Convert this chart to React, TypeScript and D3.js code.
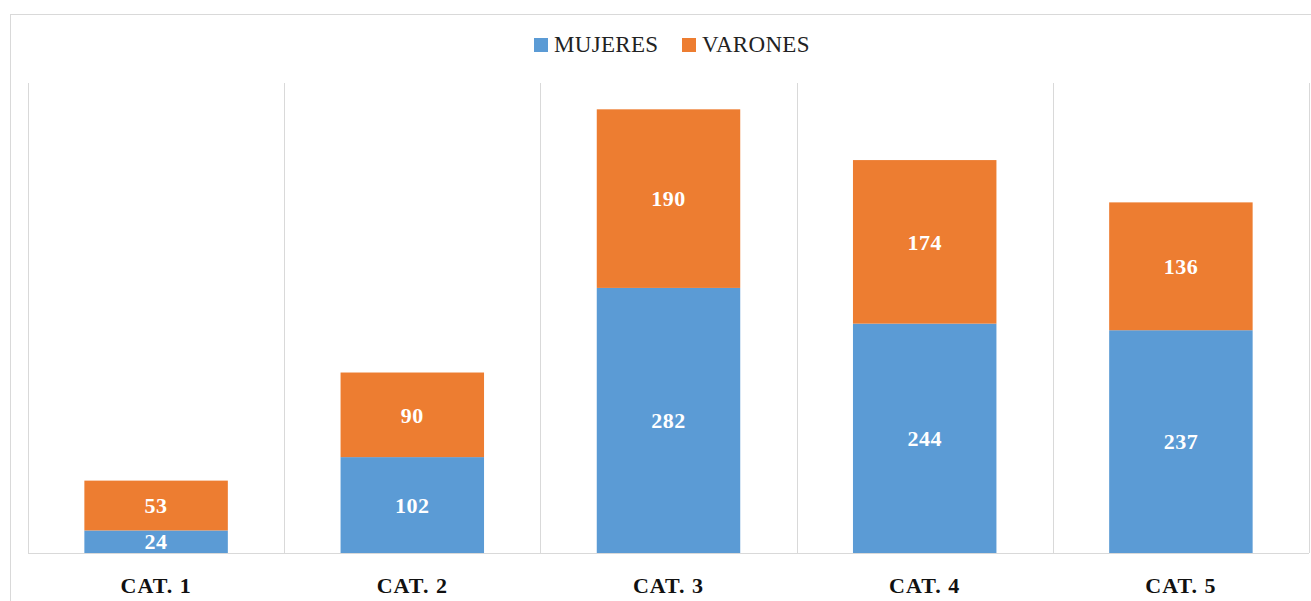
import React, { useEffect, useRef } from "react";
import * as d3 from "d3";

// 카테고리와 시리즈 값
const categories = ["CAT. 1", "CAT. 2", "CAT. 3", "CAT. 4", "CAT. 5"];
const mujeres = [24, 102, 282, 244, 237];
const varones = [53, 90, 190, 174, 136];
const seriesNames = ["MUJERES", "VARONES"];
const seriesColors = ["#5B9BD5", "#ED7D31"];

const WIDTH = 1311;
const HEIGHT = 601;

const App: React.FC = () => {
  const svgRef = useRef<SVGSVGElement>(null);

  useEffect(() => {
    if (!svgRef.current) return;
    const svg = d3.select(svgRef.current);
    svg.selectAll("*").remove();

    const plot = { left: 28, right: 1309, top: 83, bottom: 553 };

    // 바깥 테두리
    svg
      .append("rect")
      .attr("x", 10.5)
      .attr("y", 14.5)
      .attr("width", 1320)
      .attr("height", 620)
      .attr("fill", "white")
      .attr("stroke", "#d9d9d9")
      .attr("stroke-width", 1);

    const x = d3
      .scaleBand<string>()
      .domain(categories)
      .range([plot.left, plot.right])
      .paddingInner(0.44)
      .paddingOuter(0.22);

    const y = d3.scaleLinear().domain([0, 500]).range([plot.bottom, plot.top]);

    // 세로 그리드선 (카테고리 경계)
    const step = x.step();
    const bounds = d3.range(categories.length + 1).map((i) => plot.left + i * step);
    svg
      .append("g")
      .selectAll("line")
      .data(bounds)
      .enter()
      .append("line")
      .attr("x1", (d) => Math.round(d) + 0.5)
      .attr("x2", (d) => Math.round(d) + 0.5)
      .attr("y1", plot.top)
      .attr("y2", plot.bottom)
      .attr("stroke", "#d9d9d9");

    // 기준선
    svg
      .append("line")
      .attr("x1", plot.left)
      .attr("x2", plot.right)
      .attr("y1", plot.bottom + 0.5)
      .attr("y2", plot.bottom + 0.5)
      .attr("stroke", "#d9d9d9");

    // 스택 데이터
    const rows = categories.map((c, i) => ({ cat: c, MUJERES: mujeres[i], VARONES: varones[i] }));
    const stack = d3.stack<any>().keys(seriesNames)(rows);

    const layers = svg
      .append("g")
      .selectAll("g")
      .data(stack)
      .enter()
      .append("g")
      .attr("fill", (_, i) => seriesColors[i]);

    layers
      .selectAll("rect")
      .data((d) => d)
      .enter()
      .append("rect")
      .attr("x", (d) => x(d.data.cat)!)
      .attr("width", x.bandwidth())
      .attr("y", (d) => y(d[1]))
      .attr("height", (d) => y(d[0]) - y(d[1]));

    // 데이터 라벨
    layers
      .selectAll("text")
      .data((d) => d)
      .enter()
      .append("text")
      .attr("x", (d) => x(d.data.cat)! + x.bandwidth() / 2)
      .attr("y", (d) => (y(d[0]) + y(d[1])) / 2)
      .attr("dy", "0.35em")
      .attr("text-anchor", "middle")
      .style("font-family", "'Liberation Serif', serif")
      .style("font-weight", "bold")
      .style("font-size", "22px")
      .style("letter-spacing", "0.5px")
      .style("fill", "white")
      .text((d) => d[1] - d[0]);

    // 카테고리 라벨
    svg
      .append("g")
      .selectAll("text")
      .data(categories)
      .enter()
      .append("text")
      .attr("x", (d) => x(d)! + x.bandwidth() / 2)
      .attr("y", 593)
      .attr("text-anchor", "middle")
      .style("font-family", "'Liberation Serif', serif")
      .style("font-weight", "bold")
      .style("font-size", "22px")
      .style("letter-spacing", "1px")
      .style("fill", "#111")
      .text((d) => d);

    // 범례
    const legendX = [534, 682];
    const legend = svg
      .append("g")
      .selectAll("g")
      .data(seriesNames)
      .enter()
      .append("g")
      .attr("transform", (_, i) => `translate(${legendX[i]}, 38)`);

    legend
      .append("rect")
      .attr("width", 14)
      .attr("height", 14)
      .attr("fill", (_, i) => seriesColors[i]);

    legend
      .append("text")
      .attr("x", 20)
      .attr("y", 14)
      .style("font-family", "'Liberation Serif', serif")
      .style("font-size", "23px")
      .style("letter-spacing", "0.3px")
      .style("fill", "#222")
      .text((d) => d);
  }, []);

  return (
    <svg
      ref={svgRef}
      width={WIDTH}
      height={HEIGHT}
      style={{ position: "absolute", left: 0, top: 0, display: "block", background: "white" }}
    />
  );
};

export default App;
